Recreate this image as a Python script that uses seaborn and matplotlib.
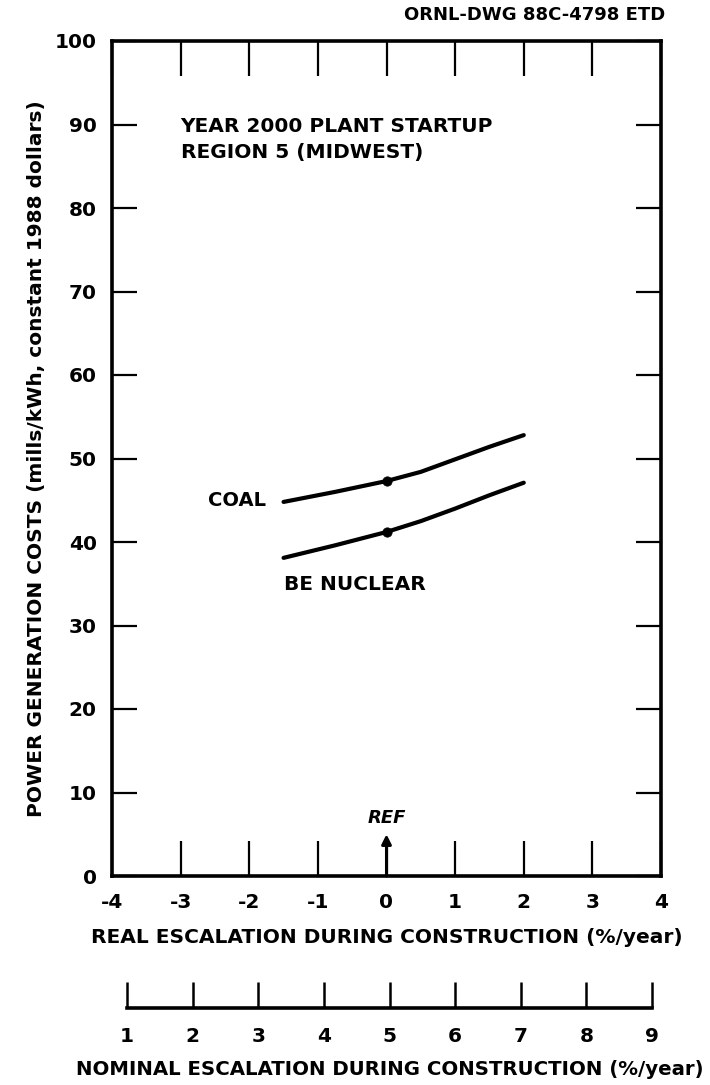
import matplotlib
matplotlib.use("Agg")
import matplotlib.pyplot as plt
import seaborn as sns
import pandas as pd

# Data
real_escalation = [-1.5, -0.75, 0.0, 0.5, 1.0, 1.5, 2.0]
coal_cost = [44.8, 46.0, 47.3, 48.4, 49.9, 51.4, 52.8]
nuclear_cost = [38.1, 39.6, 41.2, 42.5, 44.0, 45.6, 47.1]
ref_x = [0.0]
coal_ref = [47.3]
nuclear_ref = [41.2]

real_ticks = [-4, -3, -2, -1, 0, 1, 2, 3, 4]
real_tick_labels = ["-4", "-3", "-2", "-1", "0", "1", "2", "3", "4"]
y_ticks = [0, 10, 20, 30, 40, 50, 60, 70, 80, 90, 100]
nominal_ticks = [1, 2, 3, 4, 5, 6, 7, 8, 9]

sns.set_theme(style="ticks")
plt.rcParams['font.family'] = ['DejaVu Sans']
plt.rcParams['font.weight'] = 'bold'
plt.rcParams['text.color'] = 'black'
plt.rcParams['axes.labelcolor'] = 'black'

fig = plt.figure(figsize=(7.1, 10.85), dpi=100)
ax = fig.add_axes([112/710, 1 - 876/1085, (661-112)/710, (876-41)/1085])

df = pd.DataFrame({
    "real": real_escalation * 2,
    "cost": coal_cost + nuclear_cost,
    "plant": ["COAL"] * len(coal_cost) + ["BE NUCLEAR"] * len(nuclear_cost),
})
sns.lineplot(data=df, x="real", y="cost", units="plant", estimator=None,
             color="black", linewidth=3.0, ax=ax, legend=False)
sns.scatterplot(x=ref_x * 2, y=coal_ref + nuclear_ref, color="black", s=45,
                edgecolor="black", ax=ax, legend=False, zorder=5)

ax.set_xlim(-4, 4)
ax.set_ylim(0, 100)
ax.set_xticks(real_ticks)
ax.set_xticklabels(real_tick_labels)
ax.set_yticks(y_ticks)
for s in ax.spines.values():
    s.set_linewidth(2.6)
    s.set_color("black")
ax.tick_params(axis="x", direction="in", length=25, width=1.6, top=True,
               bottom=True, labelsize=14.5, pad=12, colors="black")
ax.tick_params(axis="y", direction="in", length=18, width=1.6, left=True,
               right=True, labelsize=14.5, pad=11, colors="black")
for lab in ax.get_xticklabels() + ax.get_yticklabels():
    lab.set_fontweight("bold")

ax.set_xlabel("REAL ESCALATION DURING CONSTRUCTION (%/year)", fontsize=14.5,
              fontweight="bold", labelpad=12, color="black")
ax.set_ylabel("POWER GENERATION COSTS (mills/kWh, constant 1988 dollars)",
              fontsize=14.5, fontweight="bold", labelpad=6, color="black")

ax.text(-3.0, 88.2, "YEAR 2000 PLANT STARTUP\nREGION 5 (MIDWEST)", fontsize=14.5,
        fontweight="bold", va="center", ha="left", linespacing=1.5, color="black")
ax.text(-1.75, 45.0, "COAL", fontsize=14, fontweight="bold", va="center",
        ha="right", color="black")
ax.text(-1.5, 36.0, "BE NUCLEAR", fontsize=14.5, fontweight="bold", va="top",
        ha="left", color="black")

ax.annotate("", xy=(0, 5), xytext=(0, 0),
            arrowprops=dict(arrowstyle="-|>", color="black", lw=2.2,
                            mutation_scale=14, shrinkA=0, shrinkB=0))
ax.text(0, 5.9, "REF", fontsize=13, fontweight="bold", fontstyle="italic",
        ha="center", va="bottom", color="black")

fig.text(665/710, 1 - 15/1085, "ORNL-DWG 88C-4798 ETD", fontsize=13,
         fontweight="bold", ha="right", va="center", color="black")

# Nominal escalation axis
ax2 = fig.add_axes([127/710, 1 - 1008/1085, (652-127)/710, 0.05])
ax2.set_xlim(1, 9)
ax2.set_ylim(0, 1)
ax2.set_yticks([])
ax2.set_xticks(nominal_ticks)
ax2.set_xticklabels([str(t) for t in nominal_ticks])
for side in ["top", "left", "right"]:
    ax2.spines[side].set_visible(False)
ax2.spines["bottom"].set_linewidth(2.6)
ax2.spines["bottom"].set_color("black")
ax2.patch.set_alpha(0)
ax2.tick_params(axis="x", direction="in", length=19, width=1.8, labelsize=14.5,
                pad=14, colors="black")
for lab in ax2.get_xticklabels():
    lab.set_fontweight("bold")
ax2.set_xlabel("NOMINAL ESCALATION DURING CONSTRUCTION (%/year)", fontsize=14.2,
               fontweight="bold", labelpad=10, color="black")

fig.savefig("out.png", dpi=100)
